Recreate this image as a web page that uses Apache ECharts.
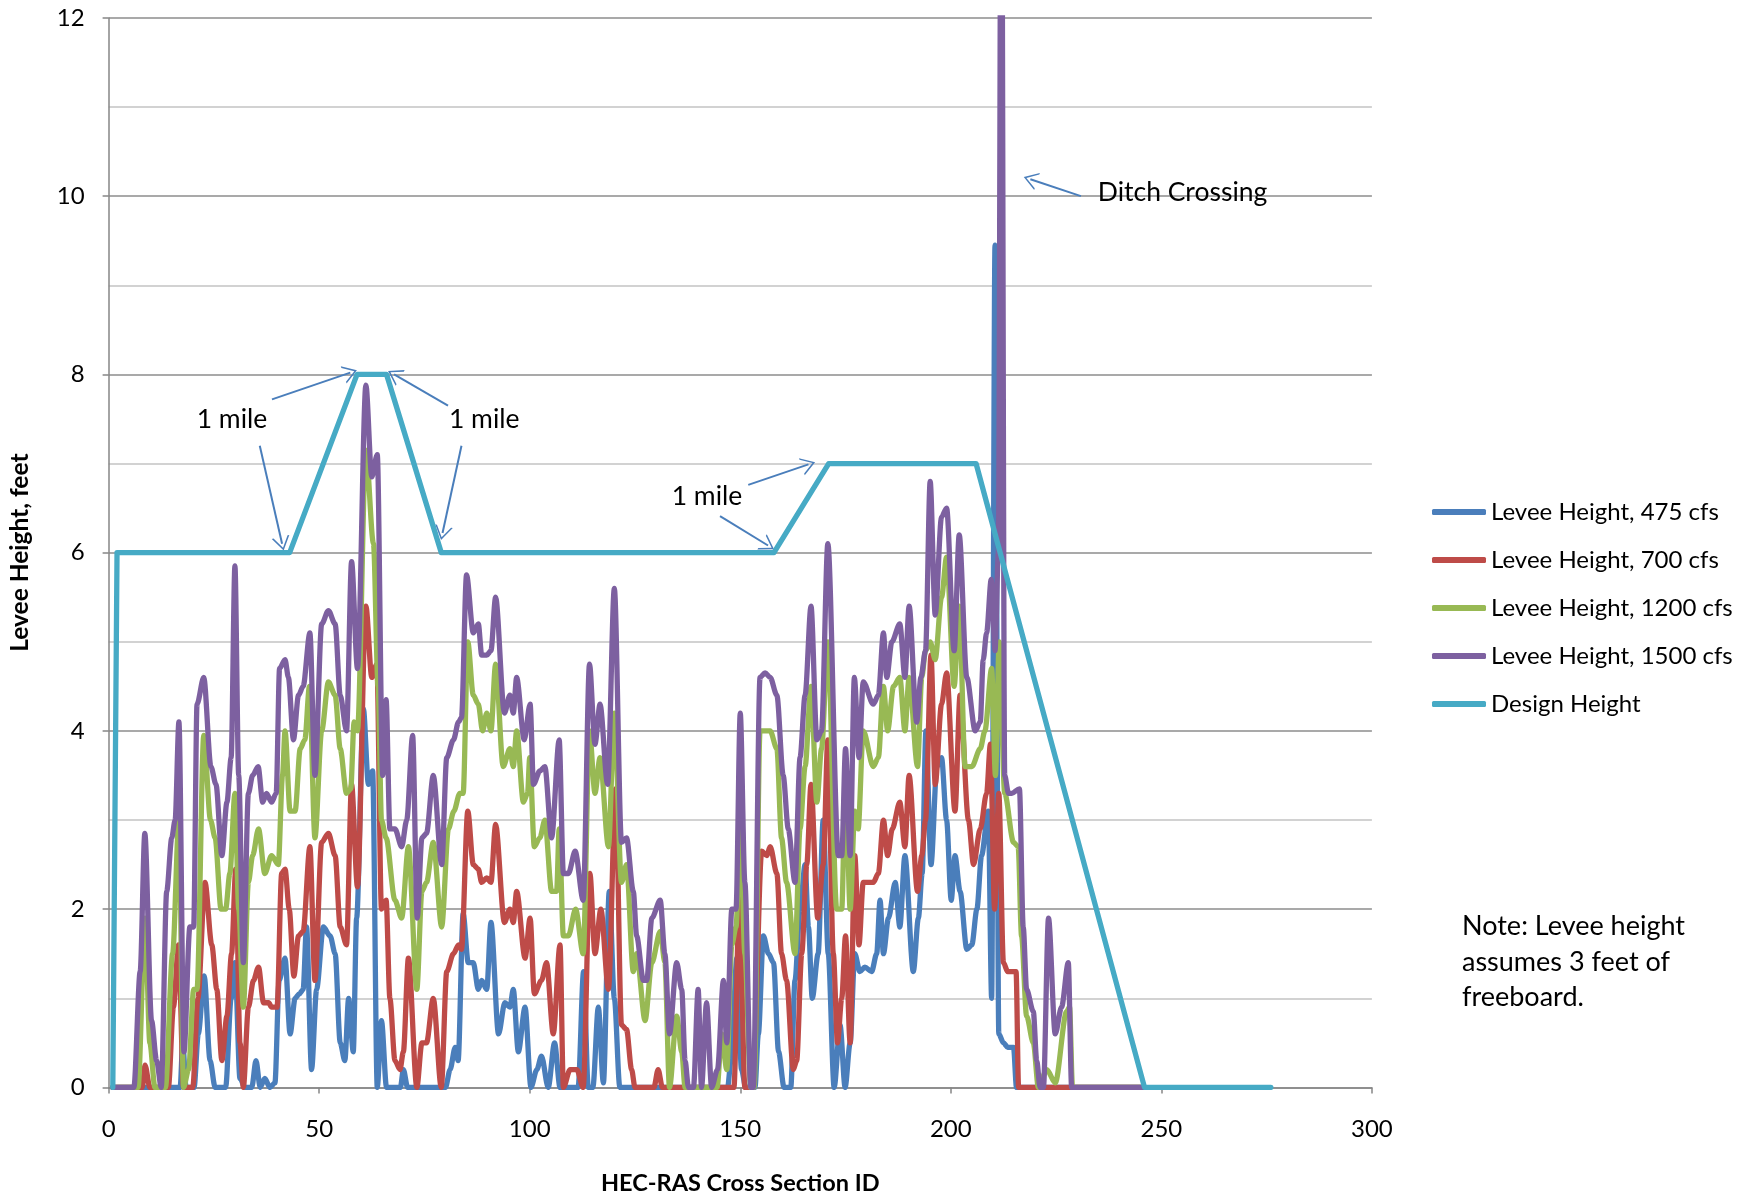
<!DOCTYPE html>
<html><head><meta charset="utf-8">
<script src="https://cdn.jsdelivr.net/npm/echarts@6/dist/echarts.min.js"></script>
<style>html,body{margin:0;padding:0;background:#fff}#c{width:1756px;height:1197px}</style>
</head><body><div id="c"></div><script>
// ---- data (x = HEC-RAS cross section ID, y = levee height in feet) ----
const seriesNames = ['Levee Height, 475 cfs','Levee Height, 700 cfs','Levee Height, 1200 cfs','Levee Height, 1500 cfs','Design Height'];
const xTicks = [0,50,100,150,200,250,300];
const yTicks = [0,2,4,6,8,10,12];

const h475 = [[1,0],[17,0],[17.6,0.5],[18.4,0],[20.3,0],[21.3,0.6],[22.7,1.25],[24.1,0.3],[25.3,0],[27.8,0],[29.1,1.0],[30,1.4],[31.2,0.1],[32.4,0],[34,0],[35,0.3],[36,0],[37.1,0.1],[38.3,0],[39.5,0.05],[40.5,1.2],[41.9,1.45],[43.1,0.6],[44.3,1.0],[45.3,1.05],[46.2,1.1],[47,1.8],[48.2,0.2],[49.4,1.1],[51,1.8],[52.6,1.7],[53.8,1.5],[55,0.5],[56.1,0.3],[57,1.0],[58.1,0.4],[58.9,1.9],[60.5,4.25],[61.7,3.4],[62.7,3.55],[63.8,0],[64.8,0.75],[66,0],[69.3,0],[70,0.2],[71,0],[80,0],[81.1,0.2],[82.3,0.45],[83,0.3],[84.2,1.95],[85.4,1.4],[86.6,1.4],[87.8,1.1],[88.6,1.2],[89.8,1.1],[90.8,1.85],[92.6,0.6],[94.1,0.95],[95.3,0.9],[96.1,1.1],[97.3,0.4],[98.9,0.9],[100.3,0],[101.7,0.2],[102.8,0.35],[104.4,0],[105.9,0.5],[107.2,0],[111.5,0],[112.8,1.3],[113.9,0],[115,0],[116.3,0.9],[117.5,0.05],[118.9,2.2],[120.1,1.0],[121.4,0],[147,0],[147.8,0.3],[149.2,1.45],[150.3,0.2],[151.3,0],[153.5,0],[154.3,0.6],[155.5,1.7],[156.7,1.5],[157.9,1.4],[159.1,0.4],[160.4,0],[162,0],[163,1.2],[164.2,2.0],[165.4,2.5],[166.2,1.8],[167.1,1.0],[168.5,1.5],[169.7,3.0],[170.9,1.5],[172.3,0],[173.7,0.7],[174.9,0],[176.1,0.5],[177.2,1.5],[178.4,1.3],[179.6,1.35],[181.2,1.3],[182.4,1.5],[183.2,2.1],[184,1.5],[185.2,1.9],[186.8,2.3],[187.9,1.8],[189.1,2.6],[191.1,1.3],[192.3,1.9],[193.2,2.4],[194.1,4.0],[195.3,2.5],[196.7,3.6],[197.8,3.7],[199,3.0],[200.1,2.1],[201,2.6],[202.2,2.2],[203.8,1.55],[205,1.6],[206.2,2.0],[207.3,2.6],[208.9,3.1],[209.7,1.0],[210.5,9.45],[211.4,0.6],[212.5,0.5],[213.5,0.45],[214.9,0.45],[215.6,0],[246,0]];

const h700 = [[1,0],[8,0],[8.65,0.25],[9.8,0],[14.2,0],[15.4,0.9],[16.6,1.6],[17.8,0],[20,0],[21.2,1.0],[22.9,2.3],[24.5,1.6],[25.7,1.1],[26.9,0.3],[28.1,0.8],[29.2,1.5],[30.2,2.45],[31.2,0.5],[32,0],[33.2,0.9],[34.4,1.2],[35.6,1.35],[36.8,0.95],[38,0.95],[38.7,0.9],[40,0.9],[41.1,2.4],[41.9,2.45],[42.9,2.0],[44,1.25],[45.1,1.7],[46.2,1.75],[47.8,2.7],[49,1.2],[50.6,2.75],[52.2,2.85],[53.8,2.6],[55,1.8],[56.5,1.6],[57.7,3.4],[59.1,2.25],[61.1,5.4],[62.5,4.6],[63.7,4.75],[64.8,2.0],[65.9,2.1],[66.8,1.0],[68,0.3],[69.2,0.2],[70,0.4],[71.2,1.45],[73.2,0],[74.4,0.5],[75.5,0.5],[77.1,1.0],[79,0],[80.3,1.3],[81.9,1.5],[83.1,1.6],[83.8,1.55],[85.3,3.1],[86.6,2.5],[87.8,2.45],[88.6,2.3],[89.8,2.35],[90.8,2.3],[91.9,2.95],[94,1.85],[95.3,2.0],[96.1,1.85],[96.9,2.2],[98.9,1.45],[100.1,1.9],[101.1,1.05],[102.8,1.2],[104,1.4],[105.6,0.6],[107.2,1.6],[108,0],[109.6,0.2],[111.2,0.2],[112.7,0],[114.3,2.4],[115.5,1.5],[116.9,2.0],[118.7,1.1],[120.4,3.35],[121.8,0.7],[123,0.65],[124.2,0.2],[125,0],[129.5,0],[130.5,0.2],[131.5,0],[148.5,0],[149.8,2.2],[151.1,0],[153,0],[155.1,2.65],[156.3,2.6],[157.1,2.7],[158.7,2.4],[159.8,1.5],[161,1.2],[162.6,0.2],[163.4,0.3],[164.6,1.5],[165.8,2.5],[166.8,3.4],[168.4,1.9],[169.7,2.5],[170.8,3.9],[172.1,1.5],[173.1,0.5],[174.1,1.0],[175,1.7],[176.1,0.5],[177.2,2.6],[178.2,1.6],[179.2,2.3],[181.6,2.3],[182.8,2.4],[184,3.0],[185,2.6],[186.1,2.9],[187.9,3.2],[189.1,2.7],[190.1,3.5],[192.1,2.2],[193.1,2.6],[194,3.0],[195.3,4.85],[196.3,3.4],[197.8,4.3],[199,4.65],[201,3.1],[202.2,4.4],[204.2,3.0],[205.4,2.5],[207,2.9],[208.5,3.3],[209.4,3.85],[210.4,2.0],[211.4,3.3],[212.5,1.4],[213.5,1.3],[215.5,1.3],[216.1,0],[246,0]];

const h1200 = [[1,0],[7,0],[8.65,1.9],[9.8,0.5],[11,0],[13.5,0],[15.2,1.5],[16.7,3.0],[17.8,0],[19,0.2],[20.2,1.1],[21,1.1],[22.6,3.95],[24.2,3.0],[25.3,2.8],[26.7,2.0],[27.8,2.0],[28.8,2.4],[30,3.3],[30.9,2.0],[32,0.9],[33.2,2.3],[34.2,2.6],[35.6,2.9],[37.1,2.4],[38.7,2.6],[40.3,2.5],[41.3,3.5],[41.9,4.0],[43.1,3.1],[44.3,3.1],[45.5,3.8],[46.6,3.9],[47.7,4.5],[49,2.8],[50.6,4.0],[52.2,4.55],[53.8,4.4],[55,3.8],[56.5,3.3],[57.5,3.35],[58.3,4.1],[59.1,4.0],[61.1,7.15],[62.9,6.1],[64,4.5],[64.8,3.0],[65.9,2.8],[68,2.1],[69.6,1.9],[71.2,2.7],[73.2,1.1],[74.4,2.2],[75.5,2.3],[77.1,2.75],[79.1,1.8],[80.7,2.9],[82,3.1],[83.4,3.3],[84.2,3.3],[85.3,5.0],[86.6,4.4],[87.8,4.3],[88.8,4.0],[89.8,4.2],[90.8,4.0],[91.9,4.75],[93.7,3.6],[95.3,3.8],[96.1,3.6],[96.9,4.0],[98.5,3.2],[99.5,3.3],[100,3.7],[101.1,2.7],[102.4,2.8],[103.6,3.0],[105.2,2.2],[106.4,2.2],[107,2.9],[108,1.7],[109.2,1.7],[110.9,2.0],[112.7,1.5],[114.2,4.0],[115.5,3.3],[116.7,3.7],[118.7,2.7],[120.1,4.2],[121.8,2.3],[123,2.5],[124.6,1.3],[125.4,1.5],[127.4,0.75],[129,1.4],[131,1.75],[132.1,1.4],[133.2,0],[134.9,0.8],[136.1,0.4],[136.9,0],[144.5,0],[145.6,0.6],[146.8,0.2],[148,1.6],[149,1.8],[150,3.0],[151.1,1.5],[152.5,0],[153.3,0],[154.7,4.0],[155.9,4.0],[157.1,4.0],[158.7,3.8],[159.8,2.8],[161,2.3],[163,1.5],[164.2,2.9],[165.4,3.6],[166.8,4.5],[168.2,3.2],[169.3,3.8],[170.8,5.0],[172.9,2.0],[174.1,2.0],[175,3.5],[176.1,2.0],[177.2,3.1],[178,2.9],[179.2,4.0],[181.6,3.6],[182.8,3.7],[184,4.5],[185,4.0],[186.4,4.5],[187.9,4.6],[189.1,4.0],[190.1,4.6],[192.1,3.6],[193.1,4.6],[194,4.9],[195.1,5.0],[196.3,4.8],[197.8,5.5],[199,5.95],[200.8,4.5],[202,5.4],[203.4,3.6],[205,3.6],[207,3.8],[208.1,4.0],[209.7,4.7],[210.6,3.5],[211.5,5.0],[212.8,3.3],[214.9,2.75],[216,2.7],[216.8,1.7],[218,0.8],[219.6,0.5],[220.8,0],[222.8,0.2],[224.8,0.05],[227.5,0.85],[228.2,0.9],[228.9,0],[246,0]];

const h1500 = [[1,0],[6,0],[7.5,1.3],[8.6,2.85],[10.2,0.75],[11.4,0.3],[12.5,0],[13.8,2.2],[15,2.8],[15.8,3.0],[16.7,4.1],[17.9,0.4],[19.3,1.8],[20.2,1.8],[21,4.3],[22.6,4.6],[24.3,3.6],[25.5,3.4],[26.9,2.6],[28.1,3.2],[29.1,3.7],[30,5.85],[30.9,3.5],[32,1.4],[33.2,3.3],[34.2,3.5],[35.5,3.6],[36.6,3.2],[37.5,3.3],[38.7,3.2],[39.8,3.3],[40.6,4.7],[41.9,4.8],[42.7,4.6],[43.9,3.9],[45.1,4.4],[46.2,4.5],[47.8,5.1],[49,3.5],[50.6,5.2],[52.2,5.35],[53.8,5.2],[55,4.4],[56.5,4.0],[57.7,5.9],[59.1,4.7],[61.1,7.88],[62.5,6.85],[63.8,7.1],[65.1,3.5],[65.9,4.35],[66.8,2.9],[68,2.9],[69.6,2.7],[70.8,3.0],[72.2,3.95],[73.3,1.9],[74.4,2.8],[75.5,2.85],[77.1,3.5],[79.1,2.5],[80.3,3.7],[81.9,3.9],[83.1,4.1],[83.8,4.15],[85,5.75],[86.6,5.1],[87.8,5.2],[88.6,4.85],[89.8,4.85],[90.8,4.9],[91.9,5.5],[94,4.2],[95.3,4.4],[96.1,4.2],[96.9,4.6],[98.7,3.9],[100.1,4.3],[100.9,3.4],[102.4,3.55],[103.6,3.6],[105.2,2.8],[107,3.9],[108,2.4],[109.2,2.4],[110.8,2.65],[112.7,2.1],[114.2,4.75],[115.5,3.85],[116.7,4.3],[118.5,3.4],[120.1,5.6],[121.8,2.75],[123,2.8],[124.6,2.2],[125.4,1.7],[127,1.2],[127.8,1.2],[129,1.9],[131,2.1],[132.1,1.5],[133.2,0.6],[134.9,1.4],[136.1,1.1],[136.9,0.3],[137.7,0],[138.9,0],[140,1.1],[140.8,0],[142,0.95],[143.2,0],[144.6,0.2],[146,1.2],[146.8,0.5],[148,2.0],[149,2.0],[150,4.2],[151.1,2.3],[152.5,0],[153.1,0],[154.7,4.6],[155.9,4.65],[157.1,4.6],[158.7,4.4],[160.2,3.5],[161.4,2.9],[163,2.3],[164.2,3.7],[165.4,4.4],[166.8,5.4],[168.2,3.9],[169.3,4.0],[170.8,6.1],[173.3,2.6],[174.1,2.6],[175,3.8],[176.1,2.6],[177.1,4.6],[178.2,3.7],[179.2,4.55],[181.6,4.3],[182.8,4.4],[184,5.1],[184.8,4.6],[186,5.0],[187.9,5.2],[189.1,4.6],[190.1,5.4],[191.9,4.1],[192.9,4.6],[194,4.9],[195.1,6.8],[196.3,5.3],[197.8,6.4],[199,6.5],[200.8,4.9],[202,6.2],[203.8,4.6],[205.8,4.0],[207,4.1],[207.7,4.8],[208.5,5.1],[209.6,5.7],[210.5,4.9],[211.3,6.0],[212,15],[212.8,3.5],[213.7,3.3],[214.5,3.3],[216.3,3.35],[217.2,1.8],[218,1.1],[219.6,0.85],[220.4,0.3],[221.2,0],[222,0],[223.2,1.9],[224.8,0.6],[226.3,0.9],[227.9,1.4],[228.7,0],[246,0]];

const design = [[1,0],[2,6],[43,6],[59,8],[66,8],[79,6],[158,6],[171,7],[206,7],[246,0],[276,0]];

// annotation texts and arrows (data coordinates: [tailX, tailY, tipX, tipY])
const labelTexts = [['1 mile',29.3,7.5],['1 mile',89.2,7.5],['1 mile',142.1,6.63]];
const ditchLabel = ['Ditch Crossing',234.8,10.04];
const arrows = [[35.9,7.2,41.2,6.1],[38.8,7.72,57.4,8.02],[80.6,7.65,67.8,8.0],[83.8,7.2,79.3,6.22],[151.9,6.76,166.2,6.99],[145.2,6.41,156.6,6.08],[230.9,10.0,218.9,10.19]];
const noteText = 'Note: Levee height\nassumes 3 feet of\nfreeboard.';

// ---- styles ----
const colors = ['#4A7EBB','#BE4B48','#98B954','#7D60A0','#46AAC5'];
const FONT = 'Lato';
const chevron = 'path://M50,0 L100,100 L90,100 L50,20 L10,100 L0,100 Z';

const chart = echarts.init(document.getElementById('c'), null, {renderer:'canvas'});
const lineSeries = [h475,h700,h1200,h1500].map((d,i)=>({
  name: seriesNames[i], type:'line', data:d, smooth:0.3, smoothMonotone:'x',
  showSymbol:false, symbol:'none', clip:true, z:2+i,
  lineStyle:{color:colors[i], width:5.3, cap:'round', join:'round'},
  itemStyle:{color:colors[i]}
}));
const designSeries = {
  name: seriesNames[4], type:'line', data:design, smooth:false, showSymbol:false, symbol:'none', z:7,
  lineStyle:{color:colors[4], width:5.3, cap:'round', join:'round'}, itemStyle:{color:colors[4]},
  markLine:{
    silent:true, symbol:['none', chevron], symbolSize:[18,14],
    lineStyle:{color:'#4A7EBB', width:2, type:'solid'}, label:{show:false},
    data: arrows.map(a=>[{coord:[a[0],a[1]]},{coord:[a[2],a[3]]}])
  },
  markPoint:{
    silent:true, symbol:'rect', symbolSize:1, itemStyle:{color:'rgba(0,0,0,0)'},
    label:{show:true, position:'inside', formatter:'{b}', fontFamily:FONT, fontSize:26.5, color:'#000'},
    data: labelTexts.map(t=>({name:t[0], coord:[t[1],t[2]]})).concat([
      {name:ditchLabel[0], coord:[ditchLabel[1],ditchLabel[2]], label:{position:'right', distance:0}}
    ])
  }
};

chart.setOption({
  animation:false,
  backgroundColor:'#fff',
  textStyle:{fontFamily:FONT},
  grid:{left:108.6, right:384.1, top:17.9, bottom:109.6, containLabel:false, outerBoundsMode:'none'},
  legend:{
    orient:'vertical', left:1427, top:495, icon:'roundRect', itemWidth:54, itemHeight:6, itemGap:24,
    textStyle:{fontFamily:FONT, fontSize:24, color:'#000', lineHeight:24},
    data: seriesNames
  },
  xAxis:{
    type:'value', min:xTicks[0], max:xTicks[xTicks.length-1], interval:50,
    axisLine:{show:true, lineStyle:{color:'#868686', width:1.5}},
    axisTick:{show:true, length:6, lineStyle:{color:'#868686', width:1.5}},
    axisLabel:{fontFamily:FONT, fontSize:24, color:'#000', margin:30},
    splitLine:{show:false},
    name:'HEC-RAS Cross Section ID', nameLocation:'middle', nameGap:84,
    nameTextStyle:{fontFamily:FONT, fontWeight:'bold', fontSize:23.5, color:'#000'}
  },
  yAxis:{
    type:'value', min:yTicks[0], max:yTicks[yTicks.length-1], interval:2,
    axisLine:{show:true, lineStyle:{color:'#868686', width:1.5}},
    axisTick:{show:true, length:6, lineStyle:{color:'#868686', width:1.5}},
    axisLabel:{fontFamily:FONT, fontSize:24, color:'#000', margin:24},
    splitLine:{show:true, lineStyle:{color:'#8C8C8C', width:1.5}},
    minorTick:{show:false, splitNumber:2},
    minorSplitLine:{show:true, lineStyle:{color:'#C4C4C4', width:1.5}},
    name:'Levee Height, feet', nameLocation:'middle', nameGap:76, nameRotate:90,
    nameTextStyle:{fontFamily:FONT, fontWeight:'bold', fontSize:24.5, color:'#000'}
  },
  graphic:[{
    type:'text', left:1462, top:909,
    style:{text:noteText, font:'27px Lato', fill:'#000', lineHeight:35.5}
  }],
  series: lineSeries.concat([designSeries])
});
</script></body></html>
